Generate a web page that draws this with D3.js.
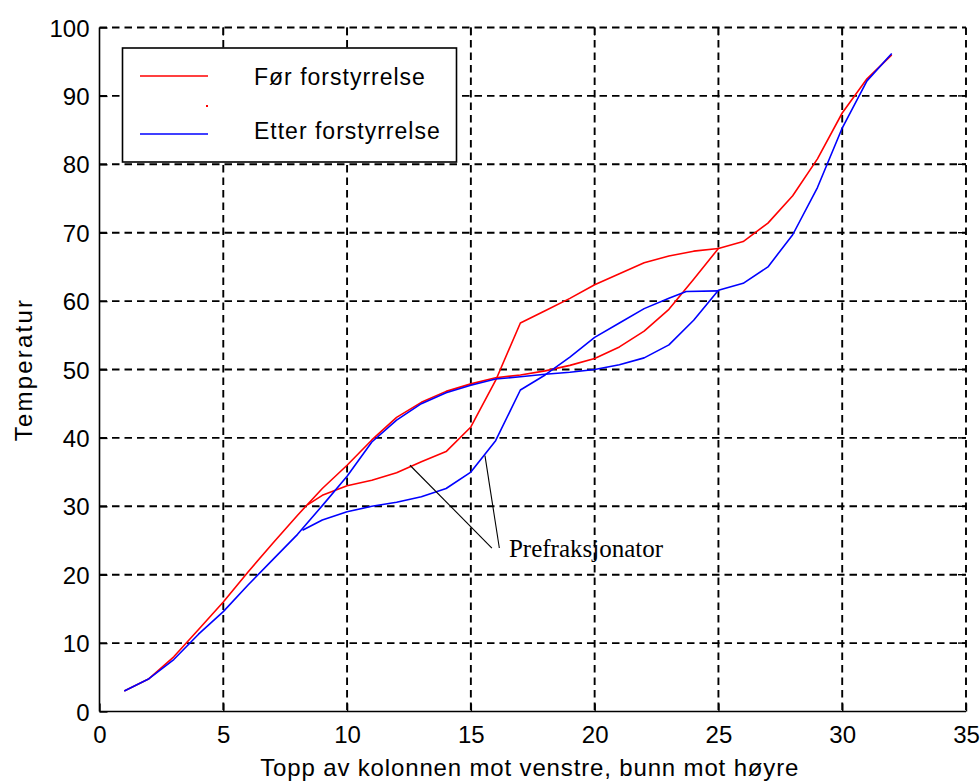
<!DOCTYPE html>
<html>
<head>
<meta charset="utf-8">
<script src="https://cdn.jsdelivr.net/npm/d3@7"></script>
<style>
  html, body { margin: 0; padding: 0; background: #fff; }
  svg { display: block; }
  text { font-family: "Liberation Sans", Arial, Helvetica, sans-serif; fill: #000; }
</style>
</head>
<body>
<svg id="chart" width="980" height="782"></svg>
<script>
// Axis ticks
const xTicks = [0, 5, 10, 15, 20, 25, 30, 35];
const yTicks = [0, 10, 20, 30, 40, 50, 60, 70, 80, 90, 100];

// Main column, stage number 1..32 (top to the left, bottom to the right)
const stages = [1, 2, 3, 4, 5, 6, 7, 8, 9, 10, 11, 12, 13, 14, 15, 16,
                17, 18, 19, 20, 21, 22, 23, 24, 25, 26, 27, 28, 29, 30, 31, 32];
const redMain = [3.0, 4.8, 8.0, 12.0, 16.0, 20.4, 24.6, 28.7, 32.6, 36.0, 39.7, 43.0, 45.2, 46.8, 47.9, 48.8,
                 49.2, 49.8, 50.6, 51.6, 53.3, 55.6, 58.8, 63.2, 67.7, 68.7, 71.4, 75.4, 80.8, 87.5, 92.5, 96.0];
const blueMain = [3.0, 4.8, 7.6, 11.3, 14.6, 18.5, 22.2, 25.9, 30.1, 34.4, 39.4, 42.6, 45.0, 46.6, 47.7, 48.6,
                  48.95, 49.3, 49.6, 50.0, 50.7, 51.7, 53.6, 57.2, 61.6, 62.6, 65.0, 69.7, 76.6, 85.3, 92.2, 96.2];

// Prefractionator profiles
const redPreX = [8.4, 9, 10, 11, 12, 13, 14, 15, 16, 17, 18, 19, 20, 21, 22, 23, 24, 25];
const redPreY = [30.2, 31.6, 33.0, 33.8, 34.9, 36.5, 38.0, 41.6, 48.4, 56.8, 58.6, 60.4, 62.4, 64.0, 65.6, 66.6, 67.3, 67.7];
const bluePreX = [8.2, 9, 10, 11, 12, 13, 14, 15, 16, 17, 18, 19, 20, 21, 22, 23, 23.7, 25];
const bluePreY = [26.5, 28.0, 29.2, 30.0, 30.6, 31.4, 32.6, 35.0, 39.6, 47.0, 49.2, 51.8, 54.7, 56.8, 58.9, 60.4, 61.4, 61.5];

// Legend and annotation text
const legendLabels = ["Før forstyrrelse", "Etter forstyrrelse"];
const annotationText = "Prefraksjonator";
const annotationFrom = [[12.54, 36.0], [15.57, 37.4]];
const annotationTo = [[15.85, 23.9], [16.15, 23.9]];
const annotationAt = [16.54, 22.6];

const svg = d3.select("#chart");
const plotL = 99.5, plotR = 966, plotT = 27.5, plotB = 711.5;

const x = d3.scaleLinear().domain([0, 35]).range([plotL, plotR]);
const y = d3.scaleLinear().domain([0, 100]).range([plotB, plotT]);

// Dashed grid (top and right edges are grid lines too)
const grid = svg.append("g")
  .attr("stroke", "#000").attr("stroke-width", 1.9).attr("stroke-dasharray", "7.5 5").attr("fill", "none");
grid.selectAll("line.v").data(xTicks.filter(d => d > 0)).join("line").attr("class", "v")
  .attr("x1", d => x(d)).attr("x2", d => x(d)).attr("y1", plotT).attr("y2", plotB);
grid.selectAll("line.h").data(yTicks.filter(d => d > 0)).join("line").attr("class", "h")
  .attr("y1", d => y(d)).attr("y2", d => y(d)).attr("x1", plotL).attr("x2", plotR);

// Axes with inward ticks
const tickLen = 8;
const xAxis = d3.axisBottom(x).tickValues(xTicks).tickSize(-tickLen).tickPadding(14).tickFormat(d3.format("d"));
const yAxis = d3.axisLeft(y).tickValues(yTicks).tickSize(-tickLen).tickPadding(10).tickFormat(d3.format("d"));

const gx = svg.append("g").attr("transform", `translate(0,${plotB})`).call(xAxis);
const gy = svg.append("g").attr("transform", `translate(${plotL},0)`).call(yAxis);
[gx, gy].forEach(g => {
  g.select(".domain").attr("stroke", "#000").attr("stroke-width", 1.6);
  g.selectAll(".tick line").attr("stroke", "#000").attr("stroke-width", 1.4);
  g.selectAll(".tick text").attr("font-size", 24).attr("fill", "#000")
    .style("font-family", "'Liberation Sans', Arial, sans-serif");
});
gx.selectAll(".tick text").attr("dy", "0.71em");
gy.selectAll(".tick text").attr("dy", "0.36em");
gy.select(".domain").attr("d", `M0,${plotB}V${plotT}`);
gx.select(".domain").attr("d", `M${plotL},0H${plotR}`);

// Ticks on top and right edges
const edgeTicks = svg.append("g").attr("stroke", "#000").attr("stroke-width", 1.4);
edgeTicks.selectAll("line.t").data(xTicks.slice(1, -1)).join("line").attr("class", "t")
  .attr("x1", d => x(d)).attr("x2", d => x(d)).attr("y1", plotT).attr("y2", plotT + tickLen);
edgeTicks.selectAll("line.r").data(yTicks.slice(1, -1)).join("line").attr("class", "r")
  .attr("y1", d => y(d)).attr("y2", d => y(d)).attr("x1", plotR).attr("x2", plotR - tickLen);

// Profiles
const line = d3.line().x(d => x(d[0])).y(d => y(d[1]));
const series = [
  { xs: stages, ys: redMain, color: "#ff0000" },
  { xs: redPreX, ys: redPreY, color: "#ff0000" },
  { xs: stages, ys: blueMain, color: "#0000ff" },
  { xs: bluePreX, ys: bluePreY, color: "#0000ff" }
];
svg.append("g").selectAll("path").data(series).join("path")
  .attr("d", s => line(s.xs.map((v, i) => [v, s.ys[i]])))
  .attr("fill", "none").attr("stroke", s => s.color).attr("stroke-width", 1.6)
  .attr("stroke-linejoin", "round");

// Annotation
const ann = svg.append("g");
ann.selectAll("line").data(annotationFrom).join("line")
  .attr("x1", d => x(d[0])).attr("y1", d => y(d[1]))
  .attr("x2", (d, i) => x(annotationTo[i][0])).attr("y2", (d, i) => y(annotationTo[i][1]))
  .attr("stroke", "#000").attr("stroke-width", 1.1);
ann.append("text").attr("x", x(annotationAt[0])).attr("y", y(annotationAt[1]))
  .attr("font-size", 25).style("font-family", "'Liberation Serif', 'Times New Roman', serif")
  .text(annotationText);

// Legend
const lg = svg.append("g");
lg.append("rect").attr("x", 122.5).attr("y", 48).attr("width", 334).attr("height", 114)
  .attr("fill", "#fff").attr("stroke", "#000").attr("stroke-width", 1.6);
const legendRows = [{ label: legendLabels[0], color: "#ff0000", ly: 76, ty: 85 },
                    { label: legendLabels[1], color: "#0000ff", ly: 134, ty: 138.5 }];
legendRows.forEach(r => {
  lg.append("line").attr("x1", 140).attr("x2", 208).attr("y1", r.ly).attr("y2", r.ly)
    .attr("stroke", r.color).attr("stroke-width", 1.6);
  lg.append("text").attr("x", 254).attr("y", r.ty).attr("font-size", 23)
    .attr("letter-spacing", 1).text(r.label);
});
lg.append("rect").attr("x", 206).attr("y", 105).attr("width", 2).attr("height", 2).attr("fill", "#ff0000");

// Axis titles
svg.append("text").attr("x", (plotL + plotR) / 2 - 3).attr("y", 776).attr("text-anchor", "middle")
  .attr("font-size", 24).attr("letter-spacing", 0.85)
  .text("Topp av kolonnen mot venstre, bunn mot høyre");
svg.append("text").attr("transform", `translate(32,${(plotT + plotB) / 2}) rotate(-90)`)
  .attr("text-anchor", "middle").attr("font-size", 24).attr("letter-spacing", 2.2)
  .text("Temperatur");
</script>
</body>
</html>
